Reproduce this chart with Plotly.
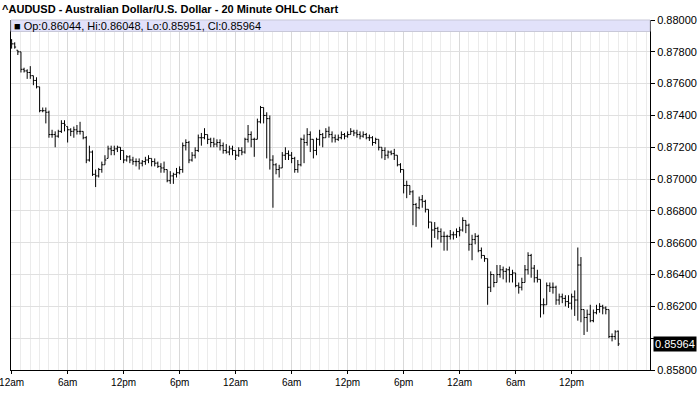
import pandas as pd
import plotly.graph_objects as go

title_text = "^AUDUSD - Australian Dollar/U.S. Dollar - 20 Minute OHLC Chart"
start_time = "2014-03-10 00:00"
bar_minutes = 20

open_ = [0.8787, 0.8785, 0.8781, 0.8780, 0.8769, 0.8768, 0.8767, 0.8765, 0.8762, 0.8758,
         0.8743, 0.8743, 0.8742, 0.8728, 0.8728, 0.8727, 0.8730, 0.8735, 0.8733, 0.8731,
         0.8730, 0.8731, 0.8730, 0.8730, 0.8726, 0.8712, 0.8717, 0.8703, 0.8702, 0.8706,
         0.8709, 0.8713, 0.8719, 0.8718, 0.8719, 0.8720, 0.8718, 0.8712, 0.8714, 0.8712,
         0.8711, 0.8711, 0.8710, 0.8711, 0.8712, 0.8713, 0.8711, 0.8710, 0.8708, 0.8707,
         0.8706, 0.8699, 0.8702, 0.8703, 0.8704, 0.8706, 0.8721, 0.8723, 0.8712, 0.8715,
         0.8718, 0.8726, 0.8726, 0.8728, 0.8725, 0.8723, 0.8722, 0.8723, 0.8721, 0.8718,
         0.8717, 0.8719, 0.8718, 0.8715, 0.8718, 0.8717, 0.8725, 0.8728, 0.8725, 0.8725,
         0.8736, 0.8745, 0.8740, 0.8738, 0.8712, 0.8709, 0.8706, 0.8707, 0.8715, 0.8716,
         0.8715, 0.8713, 0.8706, 0.8709, 0.8725, 0.8723, 0.8728, 0.8725, 0.8718, 0.8725,
         0.8728, 0.8726, 0.8730, 0.8728, 0.8726, 0.8725, 0.8726, 0.8728, 0.8727, 0.8728,
         0.8730, 0.8729, 0.8728, 0.8727, 0.8728, 0.8726, 0.8726, 0.8723, 0.8725, 0.8720,
         0.8718, 0.8715, 0.8717, 0.8716, 0.8715, 0.8709, 0.8706, 0.8696, 0.8696, 0.8692,
         0.8684, 0.8682, 0.8687, 0.8686, 0.8681, 0.8673, 0.8668, 0.8669, 0.8667, 0.8664,
         0.8664, 0.8664, 0.8665, 0.8665, 0.8667, 0.8668, 0.8674, 0.8671, 0.8659, 0.8662,
         0.8664, 0.8655, 0.8652, 0.8650, 0.8632, 0.8640, 0.8635, 0.8640, 0.8643, 0.8642,
         0.8643, 0.8640, 0.8641, 0.8633, 0.8632, 0.8635, 0.8643, 0.8652, 0.8644, 0.8638,
         0.8637, 0.8621, 0.8621, 0.8633, 0.8632, 0.8632, 0.8624, 0.8626, 0.8625, 0.8623,
         0.8622, 0.8626, 0.8624, 0.8646, 0.8618, 0.8613, 0.8615, 0.8611, 0.8616, 0.8618,
         0.8620, 0.8619, 0.8618, 0.8601, 0.8601, 0.86044]

high = [0.8788, 0.8786, 0.8781, 0.8780, 0.8770, 0.8769, 0.8771, 0.8765, 0.8764, 0.8758,
        0.8745, 0.8745, 0.8743, 0.8731, 0.8730, 0.8731, 0.8737, 0.8737, 0.8733, 0.8732,
        0.8733, 0.8734, 0.8736, 0.8730, 0.8727, 0.8721, 0.8718, 0.8706, 0.8707, 0.8711,
        0.8715, 0.8721, 0.8721, 0.8721, 0.8721, 0.8720, 0.8718, 0.8715, 0.8715, 0.8714,
        0.8713, 0.8713, 0.8712, 0.8714, 0.8715, 0.8713, 0.8713, 0.8711, 0.8710, 0.8711,
        0.8706, 0.8705, 0.8704, 0.8707, 0.8708, 0.8723, 0.8725, 0.8724, 0.8717, 0.8720,
        0.8728, 0.8729, 0.8732, 0.8728, 0.8726, 0.8726, 0.8725, 0.8725, 0.8723, 0.8722,
        0.8721, 0.8721, 0.8718, 0.8720, 0.8720, 0.8726, 0.8734, 0.8730, 0.8726, 0.8738,
        0.8746, 0.8745, 0.8742, 0.8740, 0.8715, 0.8710, 0.8709, 0.8717, 0.8720, 0.8718,
        0.8717, 0.8714, 0.8712, 0.8726, 0.8728, 0.8732, 0.8730, 0.8725, 0.8726, 0.8731,
        0.8729, 0.8732, 0.8733, 0.8730, 0.8728, 0.8728, 0.8730, 0.8729, 0.8730, 0.8732,
        0.8731, 0.8731, 0.8730, 0.8730, 0.8729, 0.8728, 0.8727, 0.8726, 0.8725, 0.8720,
        0.8720, 0.8718, 0.8718, 0.8719, 0.8715, 0.8710, 0.8706, 0.8699, 0.8696, 0.8693,
        0.8685, 0.8689, 0.8690, 0.8687, 0.8681, 0.8673, 0.8673, 0.8670, 0.8669, 0.8667,
        0.8665, 0.8668, 0.8667, 0.8669, 0.8670, 0.8676, 0.8674, 0.8672, 0.8665, 0.8666,
        0.8665, 0.8657, 0.8652, 0.8650, 0.8642, 0.8640, 0.8646, 0.8646, 0.8645, 0.8644,
        0.8645, 0.8643, 0.8641, 0.8635, 0.8638, 0.8646, 0.8654, 0.8653, 0.8646, 0.8643,
        0.8637, 0.8625, 0.8635, 0.8635, 0.8635, 0.8633, 0.8628, 0.8628, 0.8627, 0.8627,
        0.8628, 0.8630, 0.8657, 0.8651, 0.8618, 0.8618, 0.8621, 0.8618, 0.8621, 0.8622,
        0.8621, 0.8620, 0.8618, 0.8603, 0.8605, 0.86048]

low = [0.8782, 0.8782, 0.8778, 0.8767, 0.8767, 0.8763, 0.8763, 0.8759, 0.8757, 0.8742,
       0.8742, 0.8735, 0.8726, 0.8726, 0.8720, 0.8726, 0.8729, 0.8730, 0.8723, 0.8727,
       0.8726, 0.8728, 0.8728, 0.8725, 0.8710, 0.8711, 0.8702, 0.8695, 0.8701, 0.8704,
       0.8709, 0.8713, 0.8715, 0.8715, 0.8717, 0.8712, 0.8710, 0.8711, 0.8710, 0.8709,
       0.8708, 0.8706, 0.8708, 0.8709, 0.8710, 0.8708, 0.8708, 0.8707, 0.8704, 0.8704,
       0.8698, 0.8697, 0.8697, 0.8701, 0.8703, 0.8704, 0.8718, 0.8710, 0.8711, 0.8713,
       0.8717, 0.8721, 0.8725, 0.8722, 0.8720, 0.8720, 0.8720, 0.8718, 0.8716, 0.8716,
       0.8715, 0.8715, 0.8712, 0.8714, 0.8715, 0.8716, 0.8723, 0.8720, 0.8714, 0.8725,
       0.8735, 0.8735, 0.8713, 0.8706, 0.8682, 0.8703, 0.8701, 0.8707, 0.8712, 0.8712,
       0.8710, 0.8704, 0.8704, 0.8708, 0.8710, 0.8721, 0.8717, 0.8713, 0.8715, 0.8721,
       0.8720, 0.8726, 0.8726, 0.8723, 0.8723, 0.8724, 0.8725, 0.8725, 0.8726, 0.8728,
       0.8727, 0.8726, 0.8725, 0.8726, 0.8725, 0.8724, 0.8721, 0.8722, 0.8718, 0.8713,
       0.8712, 0.8713, 0.8715, 0.8712, 0.8708, 0.8704, 0.8691, 0.8688, 0.8690, 0.8671,
       0.8670, 0.8681, 0.8682, 0.8679, 0.8669, 0.8657, 0.8663, 0.8662, 0.8660, 0.8655,
       0.8655, 0.8662, 0.8662, 0.8663, 0.8664, 0.8667, 0.8666, 0.8655, 0.8649, 0.8659,
       0.8654, 0.8650, 0.8648, 0.8621, 0.8629, 0.8632, 0.8635, 0.8638, 0.8637, 0.8635,
       0.8635, 0.8635, 0.8632, 0.8628, 0.8630, 0.8635, 0.8640, 0.8638, 0.8635, 0.8635,
       0.8613, 0.8615, 0.8621, 0.8629, 0.8628, 0.8621, 0.8621, 0.8622, 0.8620, 0.8619,
       0.8618, 0.8614, 0.8611, 0.8610, 0.8602, 0.8604, 0.8610, 0.8610, 0.8615, 0.8616,
       0.8615, 0.8615, 0.8600, 0.8598, 0.8599, 0.85951]

close = [0.8785, 0.8783, 0.8780, 0.8769, 0.8768, 0.8767, 0.8765, 0.8762, 0.8758, 0.8743,
         0.8743, 0.8742, 0.8728, 0.8728, 0.8727, 0.8730, 0.8735, 0.8734, 0.8731, 0.8730,
         0.8731, 0.8730, 0.8730, 0.8726, 0.8712, 0.8717, 0.8703, 0.8702, 0.8706, 0.8709,
         0.8712, 0.8719, 0.8718, 0.8719, 0.8720, 0.8718, 0.8712, 0.8714, 0.8712, 0.8711,
         0.8711, 0.8710, 0.8711, 0.8712, 0.8713, 0.8711, 0.8710, 0.8708, 0.8707, 0.8706,
         0.8699, 0.8702, 0.8703, 0.8704, 0.8706, 0.8721, 0.8723, 0.8712, 0.8715, 0.8718,
         0.8726, 0.8726, 0.8728, 0.8725, 0.8723, 0.8722, 0.8723, 0.8721, 0.8718, 0.8717,
         0.8719, 0.8718, 0.8715, 0.8718, 0.8717, 0.8725, 0.8728, 0.8725, 0.8725, 0.8736,
         0.8745, 0.8740, 0.8738, 0.8712, 0.8709, 0.8706, 0.8707, 0.8715, 0.8716, 0.8715,
         0.8713, 0.8706, 0.8709, 0.8725, 0.8723, 0.8728, 0.8725, 0.8718, 0.8725, 0.8728,
         0.8726, 0.8730, 0.8728, 0.8726, 0.8725, 0.8726, 0.8728, 0.8727, 0.8728, 0.8730,
         0.8729, 0.8728, 0.8727, 0.8728, 0.8726, 0.8726, 0.8723, 0.8725, 0.8720, 0.8718,
         0.8715, 0.8717, 0.8716, 0.8715, 0.8709, 0.8706, 0.8696, 0.8696, 0.8692, 0.8684,
         0.8682, 0.8687, 0.8686, 0.8681, 0.8673, 0.8668, 0.8669, 0.8667, 0.8664, 0.8664,
         0.8664, 0.8665, 0.8665, 0.8667, 0.8668, 0.8674, 0.8671, 0.8659, 0.8662, 0.8664,
         0.8655, 0.8652, 0.8650, 0.8632, 0.8640, 0.8635, 0.8640, 0.8643, 0.8642, 0.8643,
         0.8640, 0.8641, 0.8633, 0.8632, 0.8635, 0.8643, 0.8652, 0.8644, 0.8638, 0.8637,
         0.8621, 0.8621, 0.8633, 0.8632, 0.8632, 0.8624, 0.8626, 0.8625, 0.8623, 0.8622,
         0.8626, 0.8624, 0.8646, 0.8618, 0.8613, 0.8615, 0.8611, 0.8616, 0.8618, 0.8620,
         0.8619, 0.8618, 0.8601, 0.8601, 0.8604, 0.85964]

x_tick_labels = ["12am", "6am", "12pm", "6pm", "12am", "6am", "12pm", "6pm", "12am", "6am", "12pm"]
y_ticks = [0.858, 0.860, 0.862, 0.864, 0.866, 0.868, 0.870, 0.872, 0.874, 0.876, 0.878, 0.880]
y_tick_labels = ["0.85800", "", "0.86200", "0.86400", "0.86600", "0.86800", "0.87000",
                 "0.87200", "0.87400", "0.87600", "0.87800", "0.88000"]

times = pd.date_range(start_time, periods=len(close), freq=f"{bar_minutes}min")
t0 = pd.Timestamp(start_time)
tick_times = pd.date_range(start_time, periods=len(x_tick_labels), freq="6h")
x_lo = t0 - pd.Timedelta(minutes=4)
x_hi = t0 + pd.Timedelta(minutes=bar_minutes * 205.2)

FONT = "Liberation Sans, Arial, sans-serif"

fig = go.Figure(go.Ohlc(
    x=times, open=open_, high=high, low=low, close=close,
    increasing=dict(line=dict(color="black", width=1)),
    decreasing=dict(line=dict(color="black", width=1)),
    tickwidth=0.45, hoverinfo="skip",
))

fig.update_layout(
    width=700, height=411,
    margin=dict(l=11, r=50, t=20, b=41, autoexpand=False),
    paper_bgcolor="white", plot_bgcolor="white",
    showlegend=False,
    font=dict(family=FONT, size=11, color="black"),
    title=dict(text="<b>" + title_text + "</b>", x=0.003, xanchor="left", xref="container",
               y=1 - 9.5 / 411, yanchor="middle", yref="container",
               font=dict(family=FONT, size=11, color="black")),
    xaxis=dict(
        type="date", range=[x_lo, x_hi], rangeslider=dict(visible=False),
        tickmode="array", tickvals=list(tick_times), ticktext=x_tick_labels,
        ticks="outside", ticklen=3, tickcolor="black", automargin=False,
        ticklabeloverflow="allow",
        showline=True, linecolor="black", linewidth=1,
        showgrid=True, gridcolor="#d9d9d9", gridwidth=1,
        minor=dict(tickmode="linear", tick0=t0, dtick=3600000, showgrid=True,
                   gridcolor="#ebebeb", gridwidth=1, ticks=""),
        tickfont=dict(size=10, family=FONT), zeroline=False, fixedrange=True,
    ),
    yaxis=dict(
        side="right", range=[0.858, 0.880], tickmode="array", tickvals=y_ticks,
        ticktext=y_tick_labels, automargin=False, ticklabeloverflow="allow",
        ticks="outside", ticklen=4, tickcolor="black",
        showline=True, linecolor="black", linewidth=1, mirror=True,
        showgrid=True, gridcolor="#e0e0e0", gridwidth=1,
        tickfont=dict(size=11, family=FONT), zeroline=False, fixedrange=True,
    ),
)

# header band with last bar values
fig.add_shape(type="rect", xref="paper", yref="paper", x0=0, x1=1,
              y0=1 - 11.5 / 350, y1=1, fillcolor="#e2e2fa",
              line=dict(color="#c8c8d8", width=1), layer="above")
header = "■ Op:{:.5f}, Hi:{:.5f}, Lo:{:.5f}, Cl:{:.5f}".format(open_[-1], high[-1], low[-1], close[-1])
fig.add_annotation(text=header, xref="paper", yref="paper", x=0.002, y=1 - 5.8 / 350,
                   xanchor="left", yanchor="middle", showarrow=False,
                   font=dict(family=FONT, size=11, color="black"))

# last price label on the axis
fig.add_annotation(text="{:.5f}".format(close[-1]), xref="paper", yref="y", x=1, y=close[-1],
                   xanchor="left", yanchor="middle", xshift=3, showarrow=False,
                   bgcolor="black", borderpad=1,
                   font=dict(family=FONT, size=11, color="white"))

fig.write_html("out.html", config={"displayModeBar": False},
               post_script="document.body.style.margin='0';")
